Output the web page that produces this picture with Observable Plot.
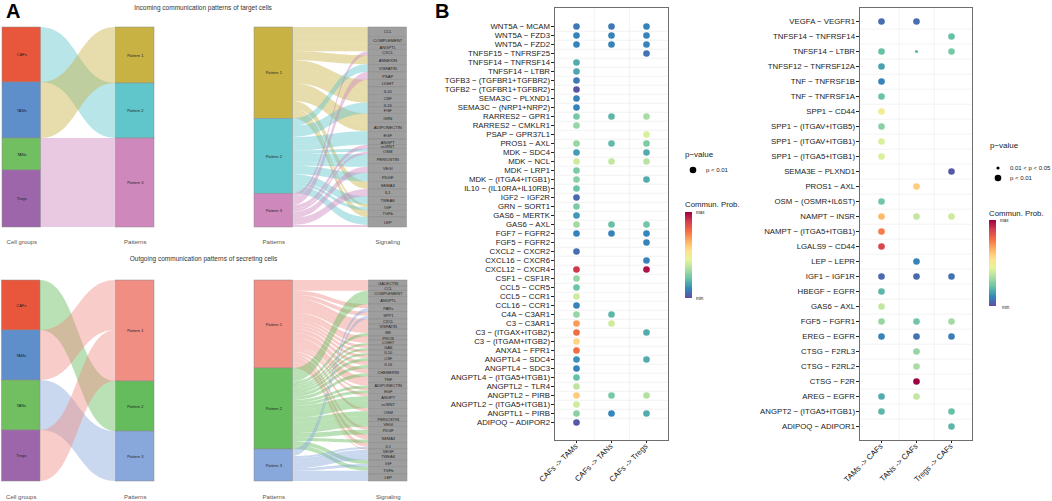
<!DOCTYPE html>
<html><head><meta charset="utf-8">
<script src="https://cdn.jsdelivr.net/npm/d3@7"></script>
<script src="https://cdn.jsdelivr.net/npm/@observablehq/plot@0.6"></script>
<style>
body{margin:0;background:#fff;}
#root{position:relative;width:1052px;height:501px;overflow:hidden;background:#fff;}
</style></head><body><div id="root"></div>
<script>
const FONT = "'Liberation Sans', Arial, Helvetica, sans-serif";

// ---------- Panel A data ----------
const cellGroups = ["CAFs", "TAMs", "TANs", "Tregs"];
const cellColors = ["#E8573C", "#5E8FCB", "#72BF62", "#9D66AA"];
const patternNames = ["Pattern 1", "Pattern 2", "Pattern 3"];
const incomingPatternColors = ["#C9B244", "#60C6CB", "#CF88BC"];
const outgoingPatternColors = ["#F08E84", "#64BC5C", "#88A8DB"];
const signalFill = "#9e9e9e";

// [cell group, pattern, weight]
const incomingCellFlows = [
  ["CAFs", "Pattern 2", 55], ["TAMs", "Pattern 1", 56],
  ["TANs", "Pattern 3", 32], ["Tregs", "Pattern 3", 57]
];
const outgoingCellFlows = [
  ["CAFs", "Pattern 2", 50], ["TAMs", "Pattern 1", 50],
  ["TANs", "Pattern 3", 50], ["Tregs", "Pattern 1", 51]
];

const incomingSignals = ["CCL","COMPLEMENT","ANGPTL","CXCL","ANNEXIN","VISFATIN","PSAP","LIGHT","IL10","CSF","IL16","FGF","GRN","ADIPONECTIN","EGF","ANGPT","ncWNT","OSM","PERIOSTIN","VEGI","PDGF","SEMA3","IL1","TWEAK","IGF","TGFb","LEP"];
// [pattern, signaling, weight]
const incomingSignalFlows = [
  ["Pattern 1","CCL",9.3],["Pattern 1","COMPLEMENT",8.3],["Pattern 1","ANGPTL",4.7],["Pattern 1","CXCL",2],
  ["Pattern 1","ANNEXIN",9],["Pattern 1","LIGHT",7.3],["Pattern 1","IL10",7.7],["Pattern 1","CSF",8],
  ["Pattern 1","GRN",8.7],["Pattern 1","ADIPONECTIN",9],["Pattern 1","SEMA3",7.7],["Pattern 1","IGF",3],["Pattern 1","TGFb",6.7],
  ["Pattern 2","VISFATIN",7.7],["Pattern 2","IL16",4.3],["Pattern 2","FGF",6.7],["Pattern 2","EGF",7.7],
  ["Pattern 2","ANGPT",5.7],["Pattern 2","OSM",3],["Pattern 2","PERIOSTIN",9.3],["Pattern 2","VEGI",3],
  ["Pattern 2","PDGF",8.7],["Pattern 2","TWEAK",8],["Pattern 2","IGF",3],["Pattern 2","LEP",8],
  ["Pattern 3","CXCL",4],["Pattern 3","PSAP",7.7],["Pattern 3","ncWNT",4],["Pattern 3","OSM",2.7],
  ["Pattern 3","VEGI",6],["Pattern 3","IL1",7.3],["Pattern 3","LEP",2]
];

const outgoingSignals = ["GALECTIN","CCL","COMPLEMENT","ANGPTL","PARs","SPP1","CXCL","VISFATIN","MK","PROS","LIGHT","GAS","IL10","CSF","IL16","CHEMERIN","TNF","ADIPONECTIN","EGF","ANGPT","ncWNT","OSM","PERIOSTIN","VEGI","PDGF","SEMA3","IL1","VEGF","TWEAK","IGF","TGFb","LEP"];
const outgoingSignalFlows = [
  ["Pattern 1","GALECTIN",6],["Pattern 1","CCL",4.7],["Pattern 1","PARs",4],["Pattern 1","SPP1",4],
  ["Pattern 1","CXCL",5],["Pattern 1","VISFATIN",5],["Pattern 1","MK",4],["Pattern 1","PROS",4],
  ["Pattern 1","LIGHT",3],["Pattern 1","GAS",3],["Pattern 1","IL10",3],["Pattern 1","CSF",3],
  ["Pattern 1","IL16",4],["Pattern 1","CHEMERIN",5],["Pattern 1","TNF",6],["Pattern 1","ADIPONECTIN",3],
  ["Pattern 1","EGF",2],["Pattern 1","ANGPT",3],["Pattern 1","OSM",3],["Pattern 1","PDGF",3],
  ["Pattern 1","SEMA3",5],["Pattern 1","IL1",4.3],["Pattern 1","VEGF",1],
  ["Pattern 2","COMPLEMENT",6],["Pattern 2","ANGPTL",7.3],["Pattern 2","MK",3],["Pattern 2","LIGHT",2],
  ["Pattern 2","GAS",2],["Pattern 2","IL10",2],["Pattern 2","CSF",3],["Pattern 2","IL16",3.3],
  ["Pattern 2","CHEMERIN",3.3],["Pattern 2","ADIPONECTIN",2.7],["Pattern 2","EGF",3],["Pattern 2","ANGPT",4.3],
  ["Pattern 2","ncWNT",7.7],["Pattern 2","OSM",4.7],["Pattern 2","PERIOSTIN",5.7],["Pattern 2","VEGI",5],
  ["Pattern 2","PDGF",4.7],["Pattern 2","SEMA3",3.3],["Pattern 2","IGF",4],["Pattern 2","TGFb",4],
  ["Pattern 3","PARs",3.7],["Pattern 3","SPP1",3.3],["Pattern 3","IL1",2],["Pattern 3","VEGF",3.3],
  ["Pattern 3","TWEAK",6.7],["Pattern 3","IGF",2.7],["Pattern 3","TGFb",3.3],["Pattern 3","LEP",7]
];

// ---------- Panel B data ----------
const spectral = ["#5E4FA2","#3288BD","#66C2A5","#ABDDA4","#E6F598","#FEE08B","#FDAE61","#F46D43","#D53E4F","#9E0142"];

const leftPairs = ["WNT5A − MCAM","WNT5A − FZD3","WNT5A − FZD2","TNFSF15 − TNFRSF25","TNFSF14 − TNFRSF14","TNFSF14 − LTBR","TGFB3 − (TGFBR1+TGFBR2)","TGFB2 − (TGFBR1+TGFBR2)","SEMA3C − PLXND1","SEMA3C − (NRP1+NRP2)","RARRES2 − GPR1","RARRES2 − CMKLR1","PSAP − GPR37L1","PROS1 − AXL","MDK − SDC4","MDK − NCL","MDK − LRP1","MDK − (ITGA4+ITGB1)","IL10 − (IL10RA+IL10RB)","IGF2 − IGF2R","GRN − SORT1","GAS6 − MERTK","GAS6 − AXL","FGF7 − FGFR2","FGF5 − FGFR2","CXCL2 − CXCR2","CXCL16 − CXCR6","CXCL12 − CXCR4","CSF1 − CSF1R","CCL5 − CCR5","CCL5 − CCR1","CCL16 − CCR1","C4A − C3AR1","C3 − C3AR1","C3 − (ITGAX+ITGB2)","C3 − (ITGAM+ITGB2)","ANXA1 − FPR1","ANGPTL4 − SDC4","ANGPTL4 − SDC3","ANGPTL4 − (ITGA5+ITGB1)","ANGPTL2 − TLR4","ANGPTL2 − PIRB","ANGPTL2 − (ITGA5+ITGB1)","ANGPTL1 − PIRB","ADIPOQ − ADIPOR2"];
const leftTargets = ["CAFs -> TAMs", "CAFs -> TANs", "CAFs -> Tregs"];
// relative communication probability (0 = min, 1 = max); null = no interaction
const probCAFsTAMs = [0.08,0.1,0.1,null,0.18,0.17,0.08,0.01,0.1,0.1,0.25,0.3,null,0.3,0.15,0.4,0.26,0.28,0.23,0.05,0.26,0.14,0.32,0.1,null,0.06,null,0.9,0.3,0.23,0.4,0.1,0.3,0.7,0.78,0.58,0.78,0.13,0.1,0.22,0.37,0.6,0.4,0.28,0.02];
const probCAFsTANs = [0.08,0.1,0.1,null,null,null,null,null,null,null,0.2,null,null,0.21,null,0.38,null,null,null,null,null,null,0.22,0.1,null,null,null,null,null,null,null,null,0.2,0.4,null,null,null,null,null,null,null,0.25,null,0.11,null];
const probCAFsTregs = [0.1,0.1,0.1,0.07,null,null,null,null,null,null,0.33,null,0.42,0.26,0.18,0.36,null,0.18,null,null,null,null,0.24,0.11,0.1,null,0.1,0.97,null,null,null,null,null,null,0.18,null,null,0.18,null,null,null,0.35,null,0.18,null];

const rightPairs = ["VEGFA − VEGFR1","TNFSF14 − TNFRSF14","TNFSF14 − LTBR","TNFSF12 − TNFRSF12A","TNF − TNFRSF1B","TNF − TNFRSF1A","SPP1 − CD44","SPP1 − (ITGAV+ITGB5)","SPP1 − (ITGAV+ITGB1)","SPP1 − (ITGA5+ITGB1)","SEMA3E − PLXND1","PROS1 − AXL","OSM − (OSMR+IL6ST)","NAMPT − INSR","NAMPT − (ITGA5+ITGB1)","LGALS9 − CD44","LEP − LEPR","IGF1 − IGF1R","HBEGF − EGFR","GAS6 − AXL","FGF5 − FGFR1","EREG − EGFR","CTSG − F2RL3","CTSG − F2RL2","CTSG − F2R","AREG − EGFR","ANGPT2 − (ITGA5+ITGB1)","ADIPOQ − ADIPOR1"];
const rightTargets = ["TAMs -> CAFs", "TANs -> CAFs", "Tregs -> CAFs"];
const probTAMsCAFs = [0.06,null,0.22,0.16,0.1,0.23,0.5,0.28,0.42,0.42,null,null,0.24,0.64,0.75,0.87,null,0.05,0.2,0.38,0.3,0.1,null,null,null,0.18,0.2,null];
const probTANsCAFs = [0.06,null,0.2,null,null,null,null,null,null,null,null,0.6,null,0.38,null,null,0.1,0.05,null,null,0.24,0.07,0.3,0.33,1.0,0.38,null,null];
const probTregsCAFs = [null,0.22,0.25,null,null,null,null,null,null,null,0.02,null,null,0.4,null,null,null,0.07,null,null,0.32,0.09,null,null,null,null,0.22,0.2];
// pairs with 0.01 < p < 0.05 (all others p < 0.01)
const weakPairs = [["TNFSF14 − LTBR", "TANs -> CAFs"]];

// ---------- helpers ----------
const root = document.getElementById("root");
function place(el, left, top) {
  el.style.position = "absolute";
  el.style.left = left + "px";
  el.style.top = top + "px";
  root.appendChild(el);
}

function alluvial({left, top, names0, names1, flows, colorByTarget, edges, nodeW, yRange, axisNames, marginBottom, tickPadding, labelSize1, colorDomain, colorRange}) {
  const idx0 = new Map(names0.map((n, i) => [n, i]));
  const idx1 = new Map(names1.map((n, i) => [n, i]));
  const nodes = [];
  let acc = 0;
  for (const n of names0) { const s = d3.sum(flows.filter(f => f[0] === n), f => f[2]); nodes.push({stage: 0, name: n, y0: acc, y1: acc + s}); acc += s; }
  const total = acc;
  acc = 0;
  for (const n of names1) { const s = d3.sum(flows.filter(f => f[1] === n), f => f[2]); nodes.push({stage: 1, name: n, y0: acc, y1: acc + s}); acc += s; }
  const c0 = edges[0] + nodeW / 2, c1 = edges[1] + nodeW / 2;
  const hw = (nodeW / 2) / (c1 - c0);
  const top0 = new Map(nodes.filter(n => n.stage === 0).map(n => [n.name, n.y0]));
  const top1 = new Map(nodes.filter(n => n.stage === 1).map(n => [n.name, n.y0]));
  const geo = flows.map((f, i) => ({id: i, src: f[0], tgt: f[1], w: f[2], key: colorByTarget ? f[1] : f[0]}));
  geo.slice().sort((a, b) => idx0.get(a.src) - idx0.get(b.src) || idx1.get(a.tgt) - idx1.get(b.tgt))
    .forEach(g => { g.a0 = top0.get(g.src); g.a1 = g.a0 + g.w; top0.set(g.src, g.a1); });
  geo.slice().sort((a, b) => idx1.get(a.tgt) - idx1.get(b.tgt) || idx0.get(a.src) - idx0.get(b.src))
    .forEach(g => { g.b0 = top1.get(g.tgt); g.b1 = g.b0 + g.w; top1.set(g.tgt, g.b1); });
  const pts = geo.flatMap(g => [
    {id: g.id, key: g.key, x: hw, y1: g.a0, y2: g.a1},
    {id: g.id, key: g.key, x: 1 - hw, y1: g.b0, y2: g.b1}
  ]);
  const fillKey = d => colorDomain.includes(d.name) ? d.name : "signal";
  const svg = Plot.plot({
    width: 452, height: 250, marginTop: 0, marginLeft: 0, marginRight: 0, marginBottom,
    style: {background: "transparent", overflow: "visible", fontFamily: FONT, fontSize: "6px", color: "#555"},
    x: {domain: [0, 1], range: [c0, c1], ticks: [0, 1], tickFormat: i => axisNames[i], tickSize: 0, tickPadding, label: null},
    y: {domain: [0, total], range: yRange, axis: null},
    color: {domain: [...colorDomain, "signal"], range: [...colorRange, signalFill]},
    marks: [
      Plot.area(pts, {x1: "x", y1: "y1", y2: "y2", z: "id", fill: "key", fillOpacity: 0.45, curve: "bump-x"}),
      Plot.rect(nodes, {x1: d => d.stage - hw, x2: d => d.stage + hw, y1: "y0", y2: "y1", fill: fillKey, stroke: "#8a8a8a", strokeWidth: 0.5}),
      Plot.text(nodes, {x: "stage", y: d => (d.y0 + d.y1) / 2, text: "name",
        fontSize: d => d.stage === 1 ? labelSize1 : 4, fill: "#222"})
    ]
  });
  place(svg, left, top);
}

function dotPlot({left, rows, cols, probs, marginLeft, marginRight}) {
  const width = 240, height = 501, mt = 7, mb = 61;
  const weak = new Set(weakPairs.map(p => p.join("|")));
  const data = [];
  rows.forEach((r, i) => cols.forEach((c, j) => {
    const v = probs[j][i];
    if (v != null) data.push({row: r, col: c, prob: v, strong: !weak.has(r + "|" + c)});
  }));
  const stepY = (height - mt - mb) / (rows.length - 1 + 1.2);
  const stepX = (width - marginLeft - marginRight) / (cols.length - 1 + 1.2);
  const svg = Plot.plot({
    width, height, marginLeft, marginRight, marginTop: mt, marginBottom: mb,
    style: {background: "transparent", overflow: "visible", fontFamily: FONT, fontSize: "7.8px", color: "#222"},
    x: {type: "point", domain: cols, padding: 0.6, label: null, tickRotate: -45, tickSize: 3, tickPadding: 1.5},
    y: {type: "point", domain: rows, padding: 0.6, label: null, tickSize: 3, tickPadding: 1.5},
    color: {type: "linear", domain: [0, 1], interpolate: d3.piecewise(d3.interpolateRgb, spectral)},
    marks: [
      Plot.ruleY(rows.slice(0, -1), {y: d => d, dy: stepY / 2, stroke: "#e4e4e4", strokeWidth: 0.5}),
      Plot.ruleX(cols.slice(0, -1), {x: d => d, dx: stepX / 2, stroke: "#e4e4e4", strokeWidth: 0.5}),
      Plot.frame({stroke: "#6e6e6e", strokeWidth: 1}),
      Plot.dot(data.filter(d => d.strong), {x: "col", y: "row", fill: "prob", r: 3.3}),
      Plot.dot(data.filter(d => !d.strong), {x: "col", y: "row", fill: "prob", r: 1.6})
    ]
  });
  place(svg, left, 0);
}

// ---------- Panel A ----------
const inDomain = [...cellGroups, ...patternNames];
const inRange = [...cellColors, ...incomingPatternColors];
const outRange = [...cellColors, ...outgoingPatternColors];

alluvial({left: 0, top: 0, names0: cellGroups, names1: patternNames, flows: incomingCellFlows, colorByTarget: true,
  edges: [2, 115.5], nodeW: 38.5, yRange: [27, 227], axisNames: ["Cell groups", "Patterns"], marginBottom: 23, tickPadding: 12.5,
  labelSize1: 4, colorDomain: inDomain, colorRange: inRange});
alluvial({left: 0, top: 0, names0: patternNames, names1: incomingSignals, flows: incomingSignalFlows, colorByTarget: false,
  edges: [254, 368], nodeW: 38.5, yRange: [27, 227], axisNames: ["Patterns", "Signaling"], marginBottom: 23, tickPadding: 12.5,
  labelSize1: 4.1, colorDomain: patternNames, colorRange: incomingPatternColors});
alluvial({left: 0, top: 250, names0: cellGroups, names1: patternNames, flows: outgoingCellFlows, colorByTarget: true,
  edges: [1.5, 115.5], nodeW: 38.5, yRange: [30, 231], axisNames: ["Cell groups", "Patterns"], marginBottom: 19, tickPadding: 13.5,
  labelSize1: 4, colorDomain: inDomain, colorRange: outRange});
alluvial({left: 0, top: 250, names0: patternNames, names1: outgoingSignals, flows: outgoingSignalFlows, colorByTarget: false,
  edges: [254, 368.5], nodeW: 38.5, yRange: [30, 231], axisNames: ["Patterns", "Signaling"], marginBottom: 19, tickPadding: 13.5,
  labelSize1: 4.0, colorDomain: patternNames, colorRange: outgoingPatternColors});

// ---------- Panel B ----------
dotPlot({left: 440, rows: leftPairs, cols: leftTargets, probs: [probCAFsTAMs, probCAFsTANs, probCAFsTregs], marginLeft: 114, marginRight: 12});
dotPlot({left: 740, rows: rightPairs, cols: rightTargets, probs: [probTAMsCAFs, probTANsCAFs, probTregsCAFs], marginLeft: 119, marginRight: 8});

// ---------- annotations & legends ----------
const NS = "http://www.w3.org/2000/svg";
const ov = document.createElementNS(NS, "svg");
ov.setAttribute("width", 1052); ov.setAttribute("height", 501);
ov.style.fontFamily = FONT;
function txt(s, x, y, size, o = {}) {
  const t = document.createElementNS(NS, "text");
  t.setAttribute("x", x); t.setAttribute("y", y);
  t.setAttribute("font-size", size);
  t.setAttribute("fill", o.fill || "#222");
  if (o.anchor) t.setAttribute("text-anchor", o.anchor);
  if (o.weight) t.setAttribute("font-weight", o.weight);
  t.textContent = s; ov.appendChild(t);
}
function circ(x, y, r) {
  const c = document.createElementNS(NS, "circle");
  c.setAttribute("cx", x); c.setAttribute("cy", y); c.setAttribute("r", r); c.setAttribute("fill", "#000");
  ov.appendChild(c);
}
const defs = document.createElementNS(NS, "defs");
const lg = document.createElementNS(NS, "linearGradient");
lg.setAttribute("id", "cbar"); lg.setAttribute("x1", 0); lg.setAttribute("y1", 1); lg.setAttribute("x2", 0); lg.setAttribute("y2", 0);
spectral.forEach((c, i) => {
  const s = document.createElementNS(NS, "stop");
  s.setAttribute("offset", i / (spectral.length - 1)); s.setAttribute("stop-color", c); lg.appendChild(s);
});
defs.appendChild(lg); ov.appendChild(defs);
function bar(x, y, w, h) {
  const r = document.createElementNS(NS, "rect");
  r.setAttribute("x", x); r.setAttribute("y", y); r.setAttribute("width", w); r.setAttribute("height", h);
  r.setAttribute("fill", "url(#cbar)"); ov.appendChild(r);
}

txt("A", 6, 17.5, 20, {weight: "bold", fill: "#000"});
txt("B", 435, 17.5, 20, {weight: "bold", fill: "#000"});
txt("Incoming communication patterns of target cells", 203, 9.5, 6.5, {anchor: "middle", fill: "#333"});
txt("Outgoing communication patterns of secreting cells", 203.5, 260.5, 6.5, {anchor: "middle", fill: "#333"});

// left legend
txt("p−value", 685, 157, 8);
circ(693, 170, 3.3);
txt("p < 0.01", 706, 172, 6);
txt("Commun. Prob.", 685, 207, 7.8);
bar(685, 212, 7, 86);
txt("max", 696, 214, 4.5);
txt("min", 696, 299.5, 4.5);

// right legend
txt("p−value", 990, 147.5, 8);
circ(998, 168, 1.6);
txt("0.01 < p < 0.05", 1010, 170, 6);
circ(998, 178, 3.3);
txt("p < 0.01", 1010, 180, 6);
txt("Commun. Prob.", 989, 215.5, 7.8);
bar(989, 220, 7, 86);
txt("max", 1000, 222, 4.5);
txt("min", 1002, 308.5, 4.5);

place(ov, 0, 0);
</script></body></html>
